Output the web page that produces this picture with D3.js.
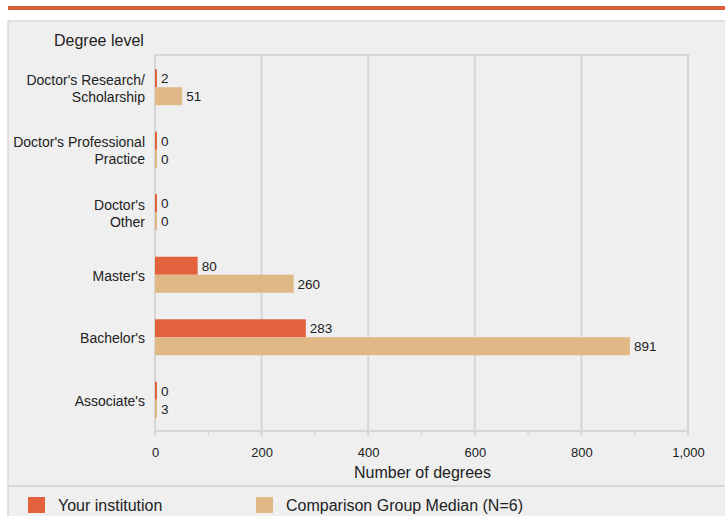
<!DOCTYPE html>
<html><head><meta charset="utf-8">
<script src="https://cdn.jsdelivr.net/npm/d3@7"></script>
<style>
html,body{margin:0;padding:0;background:#fff;}
svg{display:block;font-family:"Liberation Sans",Arial,sans-serif;}
</style></head>
<body>
<svg id="chart" width="725" height="516"></svg>
<script>
const categories = [["Doctor's Research/","Scholarship"],["Doctor's Professional","Practice"],["Doctor's","Other"],["Master's"],["Bachelor's"],["Associate's"]];
const categoryKeys = ["Doctor's Research/Scholarship","Doctor's Professional Practice","Doctor's Other","Master's","Bachelor's","Associate's"];
const yourInstitution = [2, 0, 0, 80, 283, 0];
const comparisonMedian = [51, 0, 0, 260, 891, 3];
const seriesNames = ["Your institution", "Comparison Group Median (N=6)"];
const seriesColors = ["#e4613e", "#e0b886"];
const xTicks = [0, 200, 400, 600, 800, 1000];
const xMinorTicks = [100, 300, 500, 700, 900];

(function(){
const svg = d3.select("#chart");
// top accent bar
svg.append("rect").attr("x", 8).attr("y", 6).attr("width", 717).attr("height", 4).attr("fill", "#d95f3b");
// panel
svg.append("rect").attr("x", 8).attr("y", 21).attr("width", 730).attr("height", 510)
  .attr("fill", "#efefef").attr("stroke", "#d9d9d9").attr("stroke-width", 1.5);

const pL = 155, pR = 688, pT = 55, pB = 431;
const x = d3.scaleLinear().domain([0, 1000]).range([pL, pR]);
const y = d3.scaleBand().domain(categoryKeys).range([pT + 1, pB]).paddingInner(0.42).paddingOuter(0.21);

// plot frame
svg.append("rect").attr("x", pL).attr("y", pT).attr("width", pR - pL).attr("height", pB - pT)
  .attr("fill", "none").attr("stroke", "#d6d6d6").attr("stroke-width", 2);
// gridlines
svg.append("g").selectAll("line").data(xTicks).join("line")
  .attr("x1", d => x(d)).attr("x2", d => x(d)).attr("y1", pT).attr("y2", pB + 5)
  .attr("stroke", "#d6d6d6").attr("stroke-width", 2);
svg.append("g").selectAll("line").data(xMinorTicks).join("line")
  .attr("x1", d => x(d)).attr("x2", d => x(d)).attr("y1", pB).attr("y2", pB + 4)
  .attr("stroke", "#d6d6d6").attr("stroke-width", 1.5);

// x axis labels
const xAxis = d3.axisBottom(x).tickValues(xTicks).tickFormat(d3.format(",")).tickSize(0).tickPadding(17);
const gx = svg.append("g").attr("transform", `translate(0,${pB})`).call(xAxis);
gx.select(".domain").remove();
gx.selectAll("text").attr("font-size", 13).attr("fill", "#222").attr("font-family", "Liberation Sans, Arial, sans-serif");

svg.append("text").attr("x", (pL + pR) / 2 + 1).attr("y", 478).attr("text-anchor", "middle")
  .attr("font-size", 16).attr("fill", "#222").text("Number of degrees");
svg.append("text").attr("x", 54).attr("y", 46).attr("font-size", 16).attr("fill", "#222").text("Degree level");

// bars
const half = 18;
const series = [yourInstitution, comparisonMedian];
series.forEach((vals, si) => {
  const g = svg.append("g");
  categoryKeys.forEach((c, i) => {
    const cy = y(c) + y.bandwidth() / 2;
    const y0 = si === 0 ? cy - half : cy;
    const w = Math.max(2, x(vals[i]) - x(0));
    g.append("rect").attr("x", x(0)).attr("y", y0).attr("width", w).attr("height", half).attr("fill", seriesColors[si]);
    g.append("text").attr("x", x(0) + w + 4).attr("y", y0 + half / 2).attr("dy", "0.36em")
      .attr("font-size", 13.5).attr("fill", "#222").text(vals[i]);
  });
});

// category labels
categoryKeys.forEach((c, i) => {
  const cy = y(c) + y.bandwidth() / 2 + 1;
  const lines = categories[i];
  const lh = 17;
  const t = svg.append("text").attr("text-anchor", "end").attr("font-size", 14).attr("fill", "#222");
  lines.forEach((ln, j) => {
    t.append("tspan").attr("x", 145).attr("y", cy - (lines.length - 1) * lh / 2 + j * lh).attr("dy", "0.36em").text(ln);
  });
});

// legend separator
svg.append("line").attr("x1", 8).attr("x2", 725).attr("y1", 486).attr("y2", 486).attr("stroke", "#d6d6d6").attr("stroke-width", 2);
const legendX = [28, 256];
seriesNames.forEach((n, i) => {
  svg.append("rect").attr("x", legendX[i]).attr("y", 497).attr("width", 17).attr("height", 16).attr("fill", seriesColors[i]);
  svg.append("text").attr("x", legendX[i] + 30).attr("y", 505).attr("dy", "0.36em").attr("font-size", 16).attr("fill", "#222").text(n);
});
})();
</script>
</body></html>
